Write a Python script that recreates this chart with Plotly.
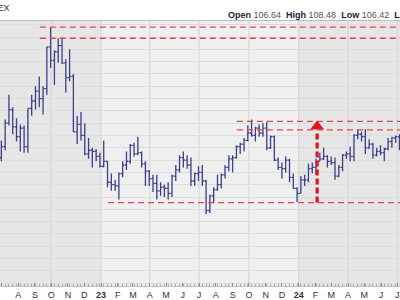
import pandas as pd
import plotly.graph_objects as go

# ---------------- data (weekly OHLC, week ending Friday) ----------------
week_start = "2022-06-24"
week_end = "2024-07-05"

open_2022 = [104.6,104.2,105.1,107.0,108.1,106.7,105.9,106.6,105.1,108.2,108.8,109.6,109.0,109.8,
             113.2,112.1,112.8,113.3,111.9,110.7,110.8,106.3,106.9,106.0,104.5,104.8,104.7,104.3]
high_2022 = [104.9,105.6,107.3,109.3,108.3,107.4,106.9,106.8,108.2,109.3,110.0,110.8,110.0,113.2,
             114.8,112.9,113.9,113.9,112.2,113.0,111.0,107.6,107.9,107.0,105.8,105.0,104.9,104.6]
low_2022 = [103.9,103.9,104.8,106.8,106.1,105.5,104.7,104.6,104.6,107.6,108.1,108.3,107.7,109.3,
            111.5,110.1,111.9,111.8,109.5,110.4,106.3,105.3,105.6,104.4,104.1,103.4,103.9,103.4]
close_2022 = [104.2,105.1,107.0,108.1,106.7,105.9,106.6,105.1,108.2,108.8,109.6,109.0,109.8,113.2,
              112.1,112.8,113.3,111.9,110.7,110.8,106.3,106.9,106.0,104.5,104.8,104.7,104.3,103.5]

open_2023 = [103.5,103.9,102.2,102.0,101.9,102.9,103.6,103.9,105.2,104.5,104.6,103.7,103.1,102.5,
             102.1,101.5,101.8,101.7,101.3,102.7,103.2,104.2,104.0,103.6,102.3,102.9,103.0,102.3,
             99.9,101.1,101.6,102.0,102.8,103.4,104.1,104.2,105.1,105.3,105.6,106.2,106.0,106.6,
             106.2,106.6,105.0,105.9,104.0,103.4,103.3,104.0,102.6,101.7]
high_2023 = [105.6,103.9,102.9,102.4,103.0,103.9,104.7,105.3,105.4,105.9,104.7,103.9,103.2,102.8,
             102.8,102.2,102.0,102.2,102.8,103.6,104.4,104.7,104.4,104.2,103.0,103.5,103.6,102.4,
             101.2,101.8,102.8,102.9,103.6,104.4,104.4,105.2,105.4,105.8,106.8,107.3,106.7,106.9,
             107.0,107.1,106.0,106.0,104.2,103.8,104.3,104.1,102.9,101.8]
low_2023 = [103.4,101.8,101.5,101.5,100.8,102.6,103.2,103.7,104.3,104.4,103.4,101.9,101.9,101.4,
            100.8,101.1,101.0,100.8,101.0,102.3,103.0,103.4,103.3,101.9,101.9,102.3,101.9,99.6,
            99.7,100.5,101.5,101.7,102.5,103.1,103.0,104.1,104.5,104.7,105.5,105.9,105.5,105.9,
            105.9,104.8,104.9,103.9,103.2,102.5,103.0,102.2,101.7,100.6]
close_2023 = [103.9,102.2,102.0,101.9,102.9,103.6,103.9,105.2,104.5,104.6,103.7,103.1,102.5,102.1,
              101.5,101.8,101.7,101.3,102.7,103.2,104.2,104.0,103.6,102.3,102.9,103.0,102.3,99.9,
              101.1,101.6,102.0,102.8,103.4,104.1,104.2,105.1,105.3,105.6,106.2,106.0,106.6,106.2,
              106.6,105.0,105.9,104.0,103.4,103.3,104.0,102.6,101.7,101.3]

open_2024 = [101.3,102.4,102.4,103.3,103.4,103.9,104.1,104.3,103.9,103.8,102.7,103.4,104.4,104.5,
             104.3,106.0,106.1,105.9,105.0,105.3,104.4,104.7,104.6,104.9,105.5,105.8,105.9]
high_2024 = [102.7,102.8,103.7,103.8,104.1,104.6,105.0,104.4,104.3,104.2,103.6,104.5,104.7,105.1,
             106.1,106.5,106.3,106.5,105.7,105.4,105.0,105.2,105.0,105.8,105.9,106.0,106.1]
low_2024 = [101.3,101.9,102.2,102.9,102.8,103.9,104.0,103.4,103.6,102.4,102.6,103.1,104.1,103.9,
            103.9,105.7,105.5,104.5,104.9,104.1,104.3,104.4,103.9,104.8,105.0,105.4,104.8]
close_2024 = [102.4,102.4,103.3,103.4,103.9,104.1,104.3,103.9,103.8,102.7,103.4,104.4,104.5,104.3,
              106.0,106.1,105.9,105.0,105.3,104.4,104.7,104.6,104.9,105.5,105.8,105.9,104.9]

opens = open_2022 + open_2023 + open_2024
highs = high_2022 + high_2023 + high_2024
lows = low_2022 + low_2023 + low_2024
closes = close_2022 + close_2023 + close_2024

month_ticks = pd.date_range("2022-07-01", "2024-07-01", freq="MS")
month_labels = ["J","A","S","O","N","D","<b>23</b>","F","M","A","M","J",
                "J","A","S","O","N","D","<b>24</b>","F","M","A","M","J","J"]
quarter_lines = ["2022-10-01","2023-01-01","2023-04-01","2023-07-01","2023-10-01","2024-01-01","2024-04-01","2024-07-01"]

# horizontal trend levels (price, start date)
levels = [(114.8, "2022-09-10"), (113.9, "2022-09-10"),
          (107.15, "2023-09-09"), (106.45, "2023-09-09"),
          (100.55, "2023-01-14")]
arrow_date = "2024-02-04"
arrow_base = 100.55
arrow_head_y = 106.72

header_open, header_high, header_low, header_last = "106.64", "108.48", "106.42", "106.70"

# ---------------- figure ----------------
dates = pd.date_range(week_start, week_end, freq="W-FRI")
assert len(dates) == len(opens) == len(highs) == len(lows) == len(closes)

x_range = ["2022-06-28 12:00", "2024-07-06"]
y_range = [93.77, 115.3]
BAR = "#3b3f8c"
RED = "#e0454d"

fig = go.Figure()

fig.add_trace(go.Ohlc(
    x=dates, open=opens, high=highs, low=lows, close=closes,
    increasing=dict(line=dict(color=BAR, width=1.3)),
    decreasing=dict(line=dict(color=BAR, width=1.3)),
    tickwidth=0.45, showlegend=False, hoverinfo="skip"))

shapes = []
# year shading
shapes.append(dict(type="rect", xref="x", yref="paper", x0=x_range[0], x1="2023-01-01",
                   y0=0, y1=1, fillcolor="#e6e6e6", line=dict(width=0), layer="below"))
shapes.append(dict(type="rect", xref="x", yref="paper", x0="2024-01-01", x1=x_range[1],
                   y0=0, y1=1, fillcolor="#e6e6e6", line=dict(width=0), layer="below"))
for q in quarter_lines:
    shapes.append(dict(type="line", xref="x", yref="paper", x0=q, x1=q, y0=0, y1=1,
                       line=dict(color="#d2d2d2", width=1), layer="below"))
for lvl, start in levels:
    shapes.append(dict(type="line", xref="x", yref="y", x0=start, x1="2024-08-01", y0=lvl, y1=lvl,
                       line=dict(color=RED, width=1.3, dash="6px,4px")))
# arrow shaft
shapes.append(dict(type="line", xref="x", yref="y", x0=arrow_date, x1=arrow_date,
                   y0=arrow_base, y1=arrow_head_y - 0.35,
                   line=dict(color="#e3121c", width=3.2, dash="6px,3px")))
fig.add_trace(go.Scatter(x=[arrow_date], y=[arrow_head_y], mode="markers",
                         marker=dict(symbol="triangle-up", size=12, color="#e3121c"),
                         showlegend=False, hoverinfo="skip"))

def ypaper(px):
    return (288 - px) / 267.0

annotations = [
    dict(xref="paper", yref="paper", x=12/400, y=ypaper(8), xanchor="right", yanchor="middle",
         text="ICE FOREX", showarrow=False, font=dict(family="Liberation Sans, Arial", size=9, color="#333333")),
    dict(xref="paper", yref="paper", x=226/400, y=ypaper(15), xanchor="left", yanchor="middle",
         text=(f"<b>Open</b> <span style='color:#555'>{header_open}</span>  "
               f"<b>High</b> <span style='color:#555'>{header_high}</span>  "
               f"<b>Low</b> <span style='color:#555'>{header_low}</span>  "
               f"<b>Last</b> <span style='color:#555'>{header_last}</span>"),
         showarrow=False, font=dict(family="Liberation Sans, Arial", size=9, color="#1c1c3a")),
]

fig.update_layout(
    width=400, height=300,
    margin=dict(l=0, r=0, t=21, b=12),
    paper_bgcolor="white", plot_bgcolor="#efefef",
    shapes=shapes, annotations=annotations,
    showlegend=False,
    xaxis=dict(type="date", range=x_range, rangeslider=dict(visible=False),
               tickmode="array", tickvals=month_ticks, ticktext=month_labels,
               ticks="inside", ticklen=3, tickcolor="#888",
               minor=dict(tickmode="array", tickvals=dates, ticks="inside", ticklen=2, tickcolor="#aaa", showgrid=False),
               showgrid=False, showline=True, linecolor="#bdbdbd", linewidth=1, mirror=True,
               tickfont=dict(family="Liberation Sans, Arial", size=9, color="#333333"),
               fixedrange=True),
    yaxis=dict(range=y_range, dtick=1, tick0=0, showticklabels=False, ticks="",
               showgrid=True, gridcolor="#dcdcdc", gridwidth=1, zeroline=False, fixedrange=True),
)

fig.write_html("out.html")
